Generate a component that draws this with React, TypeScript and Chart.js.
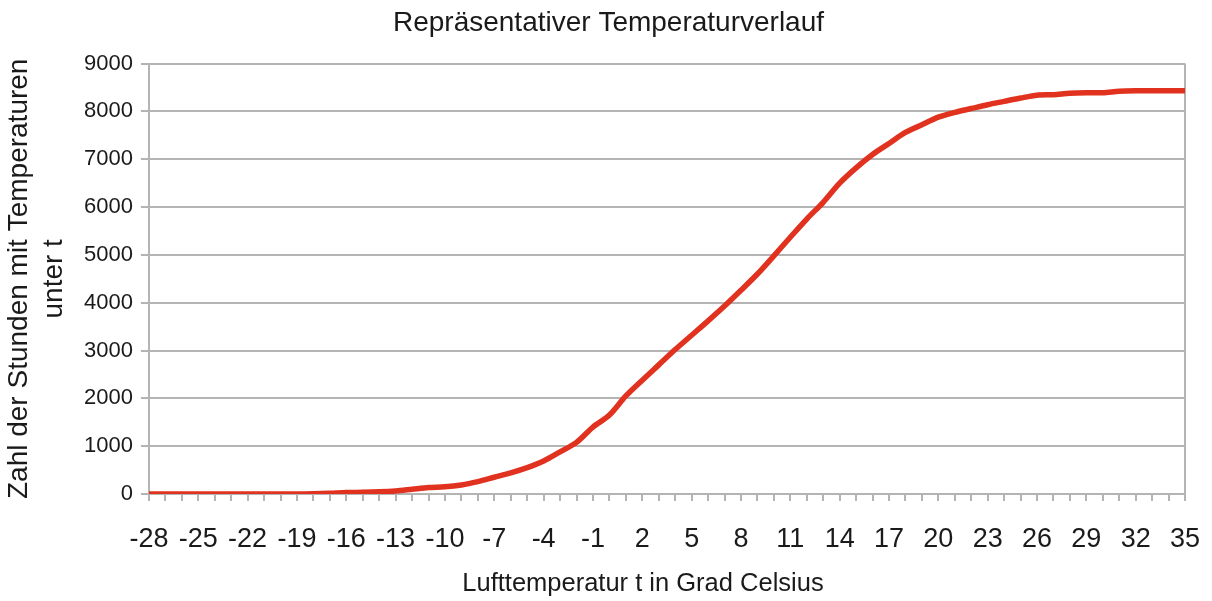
import React, { useEffect, useRef } from "react";
import { Chart, registerables } from "chart.js";

Chart.register(...registerables);

const temperatures: number[] = [
  -28, -27, -26, -25, -24, -23, -22, -21, -20, -19, -18, -17, -16, -15, -14, -13,
  -12, -11, -10, -9, -8, -7, -6, -5, -4, -3, -2, -1, 0, 1, 2, 3, 4, 5, 6, 7, 8, 9,
  10, 11, 12, 13, 14, 15, 16, 17, 18, 19, 20, 21, 22, 23, 24, 25, 26, 27, 28, 29,
  30, 31, 32, 33, 34, 35,
];

const hoursBelow: number[] = [
  0, 0, 0, 0, 0, 0, 0, 0, 0, 0, 5, 15, 30, 35, 45, 65,
  100, 135, 150, 190, 260, 350, 440, 550, 690, 880, 1080, 1400, 1650, 2050, 2380, 2700, 3020, 3320, 3620, 3930, 4260, 4600,
  4980, 5370, 5750, 6100, 6500, 6820, 7100, 7330, 7560, 7720, 7880, 7980, 8060, 8140, 8210, 8280, 8340, 8350, 8380, 8390,
  8390, 8420, 8430, 8430, 8430, 8430,
];

const titleText = "Repräsentativer Temperaturverlauf";
const yTitleLines = ["Zahl der Stunden mit Temperaturen", "unter t"];
const xTitleText = "Lufttemperatur t in Grad Celsius";

export default function App() {
  const ref = useRef<HTMLCanvasElement | null>(null);

  useEffect(() => {
    if (!ref.current) return;
    const gridGray = "#b4b4b4";
    const textColor = "#1a1a1a";
    const font = "'Liberation Sans', Arial, sans-serif";
    const xTitleSize = 25.5;
    const labels = temperatures.map(String);

    const titlePlacement = {
      id: "titlePlacement",
      afterLayout(chart: any) {
        const t = chart.titleBlock;
        if (t) {
          t.left += 15;
          t.right += 15;
        }
      },
      afterDraw(chart: any) {
        const xs = chart.scales.x;
        const ctx = chart.ctx;
        ctx.save();
        ctx.fillStyle = textColor;
        ctx.font = `${xTitleSize}px ${font}`;
        ctx.textAlign = "center";
        ctx.textBaseline = "middle";
        const cx = (chart.chartArea.left + chart.chartArea.right) / 2 - 24;
        const cy = xs.bottom - (xTitleSize * 1.2) / 2;
        ctx.fillText(xTitleText, cx, cy);
        ctx.restore();
      },
    };

    const chart = new Chart(ref.current, {
      type: "line",
      data: {
        labels,
        datasets: [
          {
            data: hoursBelow,
            borderColor: "#e0321f",
            borderWidth: 5.5,
            pointRadius: 0,
            tension: 0.3,
            fill: false,
          },
        ],
      },
      plugins: [titlePlacement],
      options: {
        animation: false,
        responsive: true,
        maintainAspectRatio: false,
        layout: { padding: { left: 2, right: 27, top: 4, bottom: 2 } },
        plugins: {
          legend: { display: false },
          tooltip: { enabled: false },
          title: {
            display: true,
            text: titleText,
            color: textColor,
            font: { family: font, size: 28, weight: "normal", lineHeight: 1.2 },
            padding: { top: 2, bottom: 24 },
          },
        },
        scales: {
          x: {
            type: "category",
            offset: false,
            afterFit: (scale: any) => {
              scale.paddingRight = 15;
            },
            grid: {
              display: true,
              drawOnChartArea: true,
              color: (ctx: any) =>
                ctx.index === labels.length - 1 ? gridGray : "rgba(0,0,0,0)",
              tickColor: gridGray,
              tickLength: 7,
              lineWidth: 2,
            },
            border: { display: true, color: gridGray, width: 2 },
            ticks: {
              autoSkip: false,
              maxRotation: 0,
              minRotation: 0,
              color: textColor,
              padding: 22,
              font: { family: font, size: 27, lineHeight: 1.2 },
              callback: (_v: any, i: number) => (i % 3 === 0 ? labels[i] : ""),
            },
            title: {
              display: true,
              text: xTitleText,
              color: "rgba(0,0,0,0)",
              font: { family: font, size: xTitleSize, lineHeight: 1.2 },
              padding: { top: -9, bottom: 0 },
            },
          },
          y: {
            min: 0,
            max: 9000,
            ticks: {
              stepSize: 1000,
              color: textColor,
              padding: 8,
              font: { family: font, size: 22 },
              callback: (v: any) => String(v),
            },
            grid: {
              color: gridGray,
              lineWidth: 2,
              tickLength: 8,
              tickColor: gridGray,
            },
            border: { display: true, color: gridGray, width: 2 },
            title: {
              display: true,
              text: yTitleLines,
              color: textColor,
              font: { family: font, size: 28, lineHeight: 1.25 },
              padding: { top: 0, bottom: 4 },
            },
          },
        },
      },
    });
    return () => chart.destroy();
  }, []);

  return (
    <div
      style={{
        position: "fixed",
        left: 0,
        top: 0,
        width: 1212,
        height: 601,
        background: "#ffffff",
      }}
    >
      <canvas ref={ref} />
    </div>
  );
}
